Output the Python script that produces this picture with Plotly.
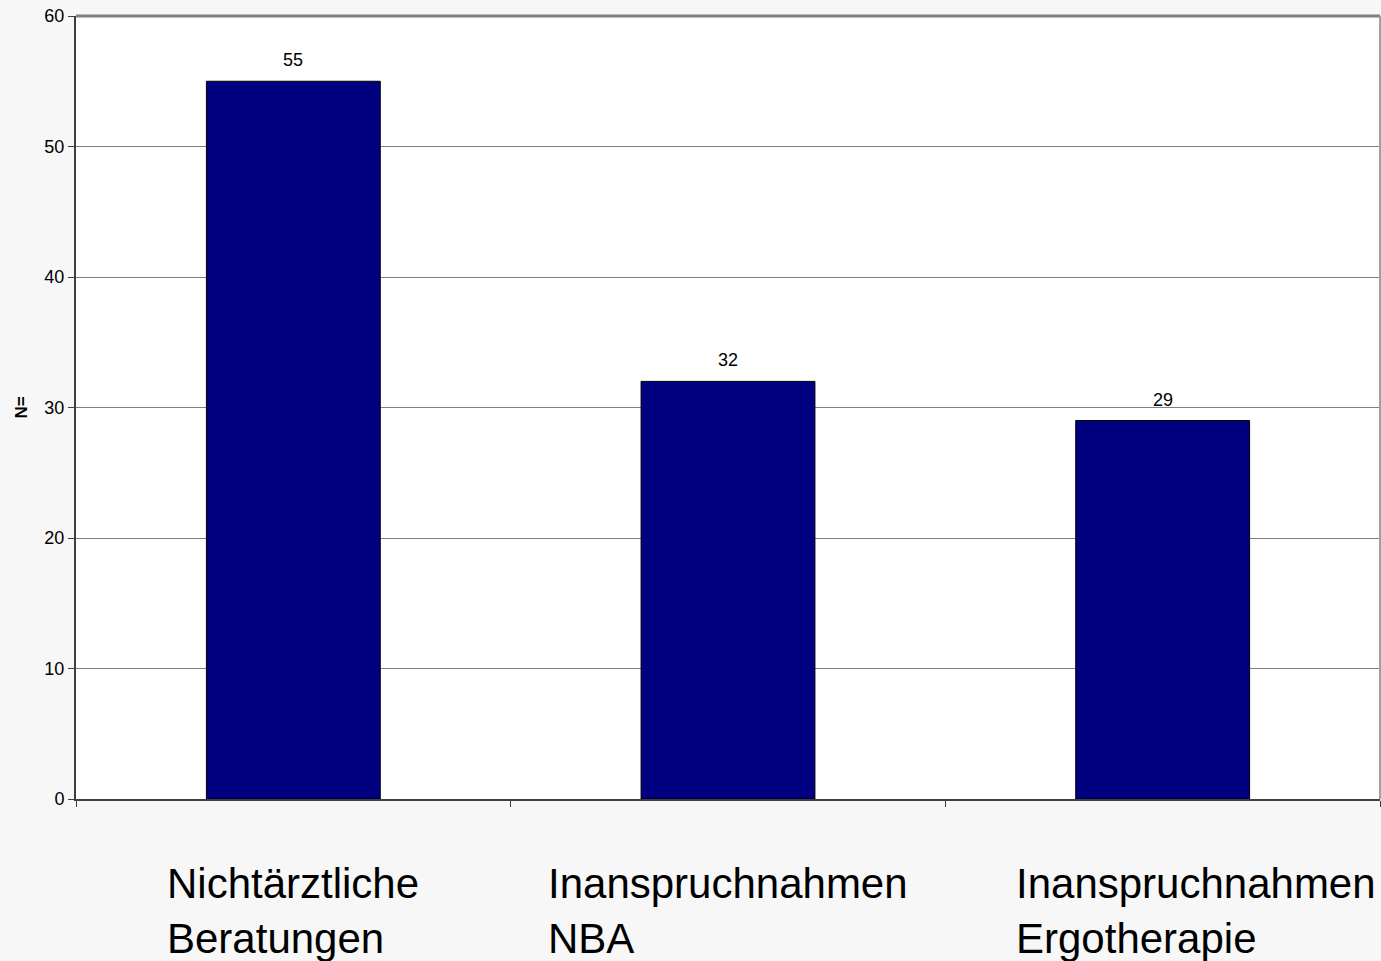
import plotly.graph_objects as go

categories = ["Nichtärztliche Beratungen", "Inanspruchnahmen NBA", "Inanspruchnahmen Ergotherapie"]
label_lines = [["Nichtärztliche", "Beratungen"], ["Inanspruchnahmen", "NBA"], ["Inanspruchnahmen", "Ergotherapie"]]
values = [55, 32, 29]
y_ticks = [0, 10, 20, 30, 40, 50, 60]

FONT = "Liberation Sans, Arial, sans-serif"

fig = go.Figure(go.Bar(
    x=categories, y=values, width=0.4,
    marker=dict(color="#000080", line=dict(color="#000000", width=1)),
    cliponaxis=False, hoverinfo="skip",
))

fig.update_layout(
    width=1381, height=961,
    margin=dict(l=76, r=1, t=16, b=162),
    paper_bgcolor="#f7f7f7", plot_bgcolor="#ffffff",
    showlegend=False,
    font=dict(family=FONT, color="#000000"),
)
fig.update_yaxes(
    range=[0, 60], tickvals=y_ticks, showgrid=True, gridcolor="#808080", gridwidth=1,
    showline=True, linecolor="#404040", linewidth=2, ticks="outside", ticklen=6,
    tickcolor="#404040", tickfont=dict(family=FONT, size=18), zeroline=False,
    title=dict(text="<b>N=</b>", font=dict(family=FONT, size=17), standoff=12),
)
fig.update_xaxes(
    showticklabels=False, showline=True, linecolor="#404040", linewidth=2,
    ticks="outside", tickson="boundaries", ticklen=6, tickcolor="#404040",
    showgrid=False,
)
# plot border top/right
fig.add_shape(type="line", xref="paper", yref="paper", x0=0, x1=1, y0=1, y1=1,
              line=dict(color="#808080", width=3))
fig.add_shape(type="line", xref="paper", yref="paper", x0=1, x1=1, y0=0, y1=1,
              line=dict(color="#a0a0a0", width=2))

# value labels above bars
for cat, v in zip(categories, values):
    fig.add_annotation(
        x=cat, y=v, xref="x", yref="y", text=str(v), showarrow=False,
        xanchor="center", yanchor="bottom", yshift=9,
        font=dict(family=FONT, size=18, color="#000000"),
    )

shifts = [0, 0, 33]
for cat, lines, s in zip(categories, label_lines, shifts):
    fig.add_annotation(
        x=cat, y=0, xref="x", yref="y", text="<br>".join(lines),
        showarrow=False, align="left", xanchor="center", yanchor="top",
        yshift=-59, xshift=s,
        font=dict(family=FONT, size=42, color="#000000"),
    )

fig.write_html(
    "out.html",
    config={"displayModeBar": False},
    post_script="document.body.style.margin='0';document.body.style.padding='0';"
                "document.body.style.background='#f7f7f7';document.body.style.overflow='hidden';",
)
